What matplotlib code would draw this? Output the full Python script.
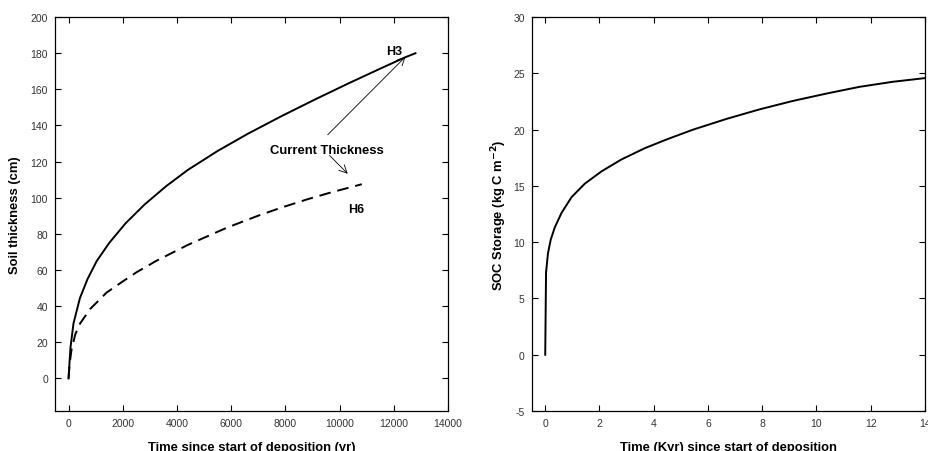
import matplotlib
matplotlib.use('Agg')
import matplotlib.pyplot as plt

plt.rcParams['font.family'] = ['Liberation Sans', 'DejaVu Sans']
plt.rcParams['axes.unicode_minus'] = False

# soil thickness, profile H3 (solid)
h3_time = [0, 40, 70, 183, 420, 700, 1040, 1500, 2100, 2800, 3600, 4400, 5500,
           6600, 7860, 9080, 10300, 11520, 12430, 12800]
h3_thick = [0, 10, 17, 30.5, 44.5, 55, 65, 75, 85.8, 96.2, 106.4, 115.4, 125.9,
            135.3, 145.2, 154.3, 163.1, 171.6, 177.8, 180]

# soil thickness, profile H6 (dashed)
h6_time = [0, 40, 110, 250, 430, 800, 1400, 2000, 2500, 3250, 4400, 5850, 7000,
           7860, 8800, 9600, 10820]
h6_thick = [0, 8, 16, 24.5, 30.5, 38.5, 47.5, 53.7, 58.7, 65.2, 73.9, 83.5, 90.1,
            94.6, 99.1, 102.6, 107.5]

# SOC storage
soc_time = [0, 0.03, 0.1, 0.2, 0.35, 0.6, 0.97, 1.46, 2.08, 2.81, 3.67, 4.5,
            5.45, 6.68, 7.9, 9.13, 10.36, 11.58, 12.81, 13.97]
soc_store = [0, 7.3, 9.0, 10.2, 11.3, 12.6, 14.0, 15.2, 16.3, 17.35, 18.35, 19.15,
             20.0, 20.95, 21.8, 22.55, 23.2, 23.8, 24.25, 24.57]

fig = plt.figure(figsize=(9.29, 4.52), dpi=100)
ax1 = fig.add_axes([0.0592, 0.0885, 0.423, 0.8715])
ax2 = fig.add_axes([0.5723, 0.0885, 0.4234, 0.8715])

tick_col = '#333333'
for ax in (ax1, ax2):
    ax.tick_params(direction='in', top=True, right=True, length=4, width=0.8,
                   labelsize=7.5, labelcolor=tick_col, pad=5)
    for sp in ax.spines.values():
        sp.set_linewidth(0.9)

ax1.plot(h3_time, h3_thick, color='black', lw=1.4)
ax1.plot(h6_time, h6_thick, color='black', lw=1.4, dashes=(6, 3.5))
ax1.set_xlim(-500, 14000)
ax1.set_ylim(-18, 200)
ax1.set_xticks(range(0, 14001, 2000))
ax1.set_yticks(range(0, 201, 20))
ax1.set_xlabel('Time since start of deposition (yr)', fontsize=9.4, fontweight='bold')
ax1.set_ylabel('Soil thickness (cm)', fontsize=9.4, fontweight='bold')
ax1.xaxis.set_label_coords(0.5, -0.075)
ax1.yaxis.set_label_coords(-0.087, 0.5)

ax1.text(12000, 181, 'H3', fontsize=9, fontweight='bold', ha='center', va='center')
ax1.text(10600, 93.6, 'H6', fontsize=9, fontweight='bold', ha='center', va='center')
ax1.text(9525, 126.2, 'Current Thickness', fontsize=9.4, fontweight='bold',
         ha='center', va='center')
ax1.annotate('', xy=(12431, 178), xytext=(9565, 134.9),
             arrowprops=dict(arrowstyle='->', lw=0.6, color='black',
                             shrinkA=0, shrinkB=0, mutation_scale=14))
ax1.annotate('', xy=(10300, 113.3), xytext=(9627, 123.5),
             arrowprops=dict(arrowstyle='->', lw=0.6, color='black',
                             shrinkA=0, shrinkB=0, mutation_scale=14))

ax2.plot(soc_time, soc_store, color='black', lw=1.4)
ax2.set_xlim(-0.5, 14)
ax2.set_ylim(-5, 30)
ax2.set_xticks(range(0, 15, 2))
ax2.set_yticks(range(-5, 31, 5))
ax2.set_xlabel('Time (Kyr) since start of deposition', fontsize=9.4, fontweight='bold')
ax2.set_ylabel('SOC Storage (kg C m$^{\\mathbf{-2}}$)', fontsize=9.4, fontweight='bold')
ax2.xaxis.set_label_coords(0.5, -0.075)
ax2.yaxis.set_label_coords(-0.058, 0.5)

fig.savefig('out.png', dpi=100)
